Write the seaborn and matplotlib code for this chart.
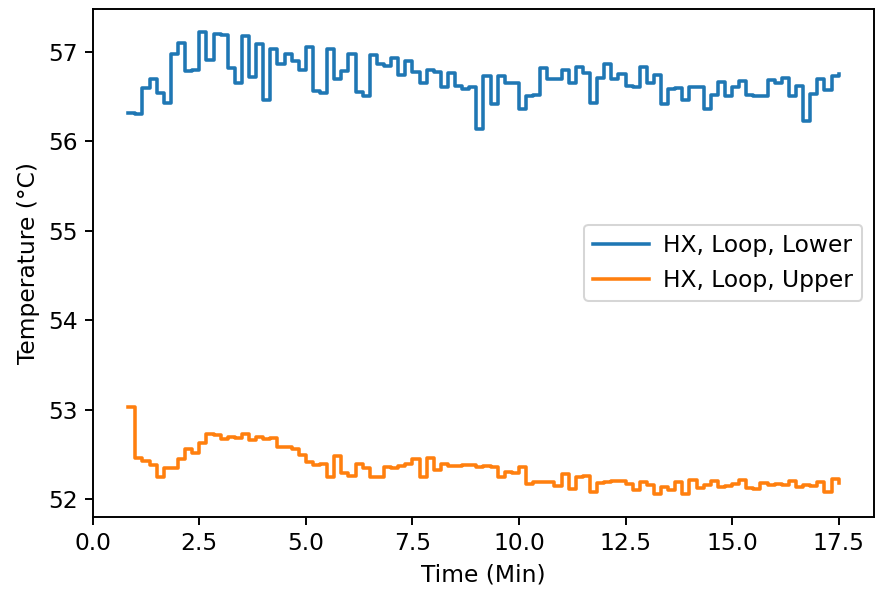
import numpy as np
import pandas as pd
import matplotlib
matplotlib.use("Agg")
import matplotlib.pyplot as plt
import seaborn as sns

# Sample times: one reading every 10 s from 50 s to 1050 s, expressed in minutes
time_min = np.arange(50, 1051, 10) / 60.0

# Heat exchanger loop temperatures (°C)
hx_loop_lower = [
    56.32, 56.30, 56.59, 56.70, 56.54, 56.43, 56.97, 57.10, 56.78, 56.80,
    57.22, 56.91, 57.20, 57.19, 56.82, 56.65, 57.18, 56.72, 57.08, 56.46,
    57.03, 56.86, 56.97, 56.89, 56.80, 57.05, 56.56, 56.54, 57.03, 56.70,
    56.78, 56.97, 56.55, 56.51, 56.96, 56.86, 56.84, 56.93, 56.74, 56.89,
    56.77, 56.65, 56.79, 56.77, 56.61, 56.76, 56.62, 56.58, 56.60, 56.14,
    56.73, 56.41, 56.73, 56.65, 56.65, 56.36, 56.51, 56.52, 56.82, 56.70,
    56.70, 56.80, 56.65, 56.83, 56.76, 56.43, 56.71, 56.86, 56.70, 56.75,
    56.62, 56.61, 56.83, 56.65, 56.74, 56.41, 56.58, 56.59, 56.46, 56.61,
    56.61, 56.36, 56.52, 56.66, 56.51, 56.61, 56.67, 56.52, 56.50, 56.51,
    56.68, 56.65, 56.71, 56.51, 56.62, 56.22, 56.53, 56.70, 56.57, 56.73,
    56.75,
]

hx_loop_upper = [
    53.03, 52.46, 52.43, 52.38, 52.25, 52.35, 52.35, 52.45, 52.56, 52.52,
    52.63, 52.73, 52.72, 52.68, 52.70, 52.69, 52.73, 52.66, 52.70, 52.67,
    52.69, 52.59, 52.58, 52.56, 52.50, 52.42, 52.38, 52.39, 52.25, 52.48,
    52.30, 52.26, 52.39, 52.35, 52.25, 52.25, 52.36, 52.35, 52.37, 52.40,
    52.45, 52.25, 52.46, 52.33, 52.39, 52.37, 52.37, 52.38, 52.38, 52.36,
    52.37, 52.36, 52.25, 52.31, 52.30, 52.36, 52.17, 52.19, 52.19, 52.19,
    52.15, 52.28, 52.12, 52.25, 52.26, 52.08, 52.18, 52.19, 52.20, 52.20,
    52.17, 52.11, 52.19, 52.16, 52.06, 52.14, 52.10, 52.19, 52.06, 52.22,
    52.13, 52.16, 52.20, 52.14, 52.15, 52.17, 52.22, 52.13, 52.12, 52.18,
    52.16, 52.17, 52.16, 52.21, 52.14, 52.16, 52.15, 52.19, 52.08, 52.23,
    52.18,
]

series_names = ["HX, Loop, Lower", "HX, Loop, Upper"]
colors = ["#1f77b4", "#ff7f0e"]

df = pd.concat([
    pd.DataFrame({"Time": time_min, "Temperature": hx_loop_lower, "Sensor": series_names[0]}),
    pd.DataFrame({"Time": time_min, "Temperature": hx_loop_upper, "Sensor": series_names[1]}),
], ignore_index=True)

plt.rcParams["font.family"] = ["DejaVu Sans"]
plt.rcParams["font.size"] = 11.5
plt.rcParams["axes.linewidth"] = 0.95
plt.rcParams["xtick.major.size"] = 4
plt.rcParams["ytick.major.size"] = 4
plt.rcParams["xtick.major.width"] = 0.95
plt.rcParams["ytick.major.width"] = 0.95

fig, ax = plt.subplots(figsize=(875 / 146, 589 / 146), dpi=146)
fig.subplots_adjust(left=0.106, right=0.999, top=0.985, bottom=0.122)

sns.lineplot(
    data=df, x="Time", y="Temperature", hue="Sensor",
    palette=dict(zip(series_names, colors)),
    drawstyle="steps-post", linewidth=1.75, errorbar=None,
    estimator=None, ax=ax,
)

ax.set_xlabel("Time (Min)")
ax.set_ylabel("Temperature (°C)")
ax.set_xticks(np.arange(0, 17.6, 2.5))
ax.set_yticks([52, 53, 54, 55, 56, 57])
ax.margins(x=0.05, y=0.05)

handles, labels = ax.get_legend_handles_labels()
ax.legend(handles, labels, loc="center right", handlelength=2.4, handletextpad=0.6)

fig.savefig("out.png", dpi=146)
